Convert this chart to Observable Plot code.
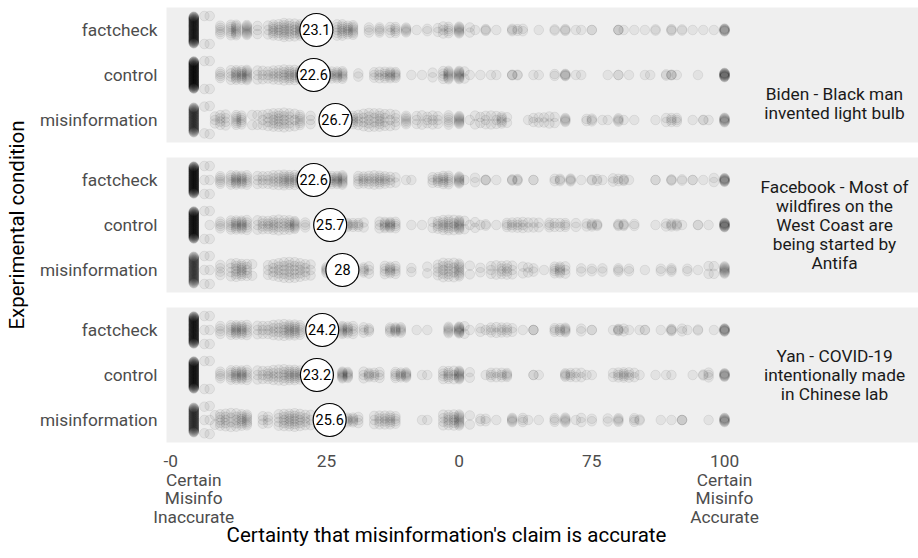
<!DOCTYPE html>
<html><head><meta charset="utf-8">
<script src="https://cdn.jsdelivr.net/npm/d3@7"></script>
<script src="https://cdn.jsdelivr.net/npm/@observablehq/plot@0.6"></script>
<style>body{margin:0;background:#fff;font-family:Roboto,sans-serif}</style>
</head><body><div id="chart"></div>
<script>
const claims = ["Biden", "Facebook", "Yan"];
const claimLabels = [
  "\n\n\nBiden - Black man\ninvented light bulb",
  "Facebook - Most of\nwildfires on the\nWest Coast are\nbeing started by\nAntifa",
  "Yan - COVID-19\nintentionally made\nin Chinese lab"
];
const conditions = ["factcheck", "control", "misinformation"];
const meanBiden = [23.1, 22.6, 26.7];
const meanFacebook = [22.6, 25.7, 28];
const meanYan = [24.2, 23.2, 25.6];
const xTicks = [0, 25, 50, 75, 100];
const xTickNumbers = ["-0", "25", "0", "75", "100"];
const xTickWords = ["Certain\nMisinfo\nInaccurate", "", "", "", "Certain\nMisinfo\nAccurate"];
const xTitle = "Certainty that misinformation's claim is accurate";
const yTitle = "Experimental condition";

// [response value, number of respondents]
const bidenFactcheck = [[0,85],[2,2],[3,2],[5,5],[7,6],[8,8],[10,10],[12,3],[14,3],[15,6],[16,5],[17,7],[18,6],[19,5],[20,8],[22,5],[25,8],[27,5],[28,6],[29,5],[30,7],[33,3],[35,4],[37,3],[38,4],[40,5],[42,1],[44,2],[46,2],[47,3],[48,4],[50,8],[52,2],[53,1],[55,3],[57,1],[60,3],[61,2],[62,2],[65,1],[68,2],[70,3],[72,1],[73,1],[75,2],[80,3],[81,1],[83,1],[85,1],[87,2],[90,3],[92,2],[94,1],[96,1],[98,1],[100,8]];
const bidenControl = [[0,100],[2,2],[3,2],[5,4],[7,4],[8,7],[9,6],[10,9],[12,3],[13,3],[14,3],[15,4],[16,4],[17,5],[18,6],[19,5],[20,8],[22,4],[25,6],[26,4],[27,5],[28,6],[31,2],[34,3],[35,3],[36,4],[37,5],[38,5],[41,1],[43,1],[45,2],[47,4],[48,8],[50,10],[51,2],[52,1],[54,1],[56,1],[57,1],[60,3],[61,2],[64,1],[65,1],[68,2],[70,5],[72,1],[73,1],[78,1],[80,2],[82,1],[85,1],[86,1],[89,2],[90,3],[91,1],[95,1],[100,14]];
const bidenMisinfo = [[0,60],[2,2],[3,2],[4,3],[5,4],[6,4],[8,6],[9,5],[11,2],[12,2],[13,3],[14,4],[15,5],[16,6],[17,5],[18,5],[19,3],[20,6],[22,3],[25,6],[30,5],[31,4],[32,4],[33,5],[34,4],[35,6],[36,4],[37,3],[38,4],[40,6],[42,3],[43,2],[44,3],[45,3],[46,3],[48,5],[50,9],[52,1],[53,2],[54,2],[55,3],[56,2],[57,3],[58,5],[59,2],[63,1],[64,2],[65,2],[66,2],[67,2],[68,2],[70,5],[74,2],[75,3],[77,1],[78,1],[80,4],[81,1],[83,1],[87,1],[89,2],[90,3],[91,3],[94,1],[96,2],[97,1],[100,9]];
const fbFactcheck = [[0,95],[2,3],[3,3],[5,5],[7,5],[8,7],[9,6],[10,5],[12,3],[13,3],[14,3],[15,4],[16,4],[17,6],[18,6],[19,5],[20,5],[22,4],[25,5],[26,5],[27,6],[28,8],[31,4],[32,4],[33,4],[34,4],[35,5],[36,4],[37,3],[38,2],[40,1],[41,1],[45,3],[46,4],[47,5],[48,5],[50,8],[51,1],[53,2],[55,3],[57,1],[60,3],[61,3],[64,2],[68,2],[69,3],[71,4],[73,1],[75,2],[76,2],[77,1],[79,2],[80,2],[81,3],[82,1],[87,2],[90,3],[92,2],[94,2],[96,1],[98,2],[100,10]];
const fbControl = [[0,95],[2,2],[3,3],[5,4],[7,5],[8,6],[9,7],[10,5],[12,3],[13,4],[14,4],[15,5],[16,4],[17,4],[18,5],[19,7],[21,3],[25,6],[29,4],[30,3],[31,3],[32,2],[35,3],[36,5],[37,6],[38,4],[41,1],[43,1],[45,2],[46,4],[47,5],[48,6],[49,4],[50,9],[51,2],[52,1],[53,2],[54,1],[55,2],[57,1],[59,3],[60,3],[61,3],[62,3],[63,2],[64,2],[65,2],[67,3],[68,2],[69,2],[70,3],[72,2],[74,2],[75,3],[76,3],[80,3],[81,3],[83,2],[87,1],[89,2],[90,3],[91,3],[92,1],[95,2],[97,1],[100,13]];
const fbMisinfo = [[0,58],[2,3],[3,3],[5,4],[7,4],[8,6],[9,7],[10,5],[11,2],[14,3],[15,4],[16,5],[17,5],[18,6],[19,5],[20,5],[21,4],[22,3],[25,5],[28,3],[30,3],[32,4],[33,3],[36,4],[37,5],[38,4],[41,2],[44,2],[46,4],[47,5],[48,6],[49,4],[50,9],[52,2],[54,2],[56,3],[57,2],[58,4],[59,4],[60,3],[62,2],[63,2],[64,2],[66,1],[68,4],[69,5],[70,3],[73,2],[75,2],[77,2],[80,3],[82,2],[85,1],[88,2],[90,3],[93,2],[95,1],[97,2],[98,2],[100,10]];
const yanFactcheck = [[0,88],[2,3],[3,3],[5,4],[7,5],[8,7],[9,6],[10,5],[12,3],[13,3],[14,3],[15,4],[16,4],[17,5],[18,7],[19,6],[20,5],[22,4],[25,6],[28,7],[29,5],[30,4],[32,3],[33,3],[37,4],[38,5],[39,5],[42,1],[44,1],[48,6],[50,10],[51,2],[52,1],[54,2],[55,1],[56,3],[57,2],[58,3],[59,3],[60,2],[62,1],[64,3],[68,3],[69,3],[70,5],[73,2],[75,2],[79,1],[80,4],[81,2],[82,1],[84,1],[85,2],[88,1],[90,4],[92,2],[93,1],[95,2],[98,1],[100,9]];
const yanControl = [[0,92],[2,2],[3,2],[5,4],[7,5],[8,6],[9,7],[10,5],[12,3],[13,3],[14,4],[15,4],[16,4],[17,5],[18,6],[19,6],[20,5],[22,4],[25,5],[28,8],[29,6],[32,3],[33,4],[34,3],[35,3],[38,4],[39,4],[40,6],[43,1],[44,1],[47,4],[48,5],[49,3],[50,10],[52,2],[55,1],[56,3],[57,2],[58,3],[59,4],[64,2],[65,1],[70,4],[71,3],[72,2],[73,2],[74,1],[75,1],[79,2],[80,3],[81,4],[82,3],[83,2],[84,1],[87,1],[89,1],[90,1],[94,1],[96,2],[97,3],[100,8]];
const yanMisinfo = [[0,62],[2,3],[3,3],[4,2],[5,5],[6,5],[7,4],[8,5],[9,6],[10,7],[13,3],[14,3],[16,4],[17,5],[18,6],[19,6],[20,5],[21,4],[22,3],[25,6],[29,4],[30,4],[31,3],[34,3],[35,4],[36,4],[37,5],[38,4],[43,1],[44,1],[47,4],[48,5],[49,5],[50,10],[52,2],[54,2],[55,2],[57,1],[60,5],[62,3],[63,1],[65,1],[68,3],[70,5],[72,1],[73,2],[75,2],[78,2],[80,4],[83,3],[84,2],[88,1],[90,1],[92,3],[97,1],[100,9]];

const responses = [
  [bidenFactcheck, bidenControl, bidenMisinfo],
  [fbFactcheck, fbControl, fbMisinfo],
  [yanFactcheck, yanControl, yanMisinfo]
];
const means = [meanBiden, meanFacebook, meanYan];

// quasirandom-like vertical spread, width growing with local density
const ROW_PX = 45, MAX_SPREAD = 14;
const points = [];
claims.forEach((claim, ci) => responses[ci].forEach((rows, k) => {
  const local = rows.map(([v]) => d3.sum(rows, ([w, n]) => Math.abs(w - v) <= 3 ? n : 0));
  const max = d3.max(local);
  rows.forEach(([v, n], j) => {
    const r = local[j] / max;
    const h = MAX_SPREAD * Math.pow(Math.max(0, (r - 0.05) / 0.95), 0.75);
    for (let i = 0; i < n; i++) {
      const off = n === 1 ? 0 : -h + 2 * h * i / (n - 1);
      points.push({claim, value: v, row: k + off / ROW_PX});
    }
  });
}));
const meanData = claims.flatMap((claim, ci) => means[ci].map((m, k) => ({claim, row: k, value: m, label: String(m)})));

const axisStyle = {tickSize: 0, fontSize: 17.3, color: "#4d4d4d", label: null};

const plot = Plot.plot({
  width: 918, height: 558,
  marginLeft: 166, marginRight: 0, marginTop: 7, marginBottom: 116,
  style: {fontFamily: "Roboto, sans-serif", background: "#ffffff"},
  x: {domain: [-5.14, 136.55]},
  y: {domain: [2.5, -0.5]},
  fy: {domain: claims, paddingInner: 0.1, paddingOuter: 0},
  marks: [
    Plot.frame({fill: "#efefef", stroke: null}),
    Plot.dot(points, {x: "value", y: "row", fy: "claim", r: 4.8, fill: "#000", fillOpacity: 0.05, stroke: "#000", strokeOpacity: 0.07, strokeWidth: 1}),
    Plot.dot(meanData, {x: "value", y: "row", fy: "claim", r: 16.5, fill: "white", stroke: "black", strokeWidth: 1.2}),
    Plot.text(meanData, {x: "value", y: "row", fy: "claim", text: "label", fontSize: 14.5, fill: "black"}),
    Plot.axisY({...axisStyle, ticks: [0, 1, 2], tickFormat: i => conditions[i], tickPadding: 9}),
    Plot.axisX({...axisStyle, ticks: xTicks.slice(1), tickFormat: d => xTickNumbers[xTicks.indexOf(d)], tickPadding: 12}),
    Plot.axisX({...axisStyle, ticks: [xTicks[0]], tickFormat: d => xTickNumbers[xTicks.indexOf(d)], tickPadding: 12, dx: -23}),
    Plot.axisX({...axisStyle, ticks: [xTicks[0], xTicks[4]], tickFormat: d => xTickWords[xTicks.indexOf(d)], tickPadding: 30, lineHeight: 1.07}),
    Plot.axisFy({anchor: "right", tickSize: 0, tickPadding: 0, textAnchor: "middle", dx: -84, fontSize: 17.3, lineHeight: 1.1, color: "#1a1a1a", label: null,
      tickFormat: c => claimLabels[claims.indexOf(c)]}),
    Plot.text([xTitle], {fy: () => claims[2], text: d => d, frameAnchor: "bottom", textAnchor: "middle", dy: 99, dx: -96, fontSize: 20.5, fill: "black"}),
    Plot.text([yTitle], {fy: () => claims[1], text: d => d, frameAnchor: "left", textAnchor: "middle", rotate: -90, dx: -149, fontSize: 20.5, fill: "black"})
  ]
});
document.getElementById("chart").appendChild(plot);
</script>
</body></html>
